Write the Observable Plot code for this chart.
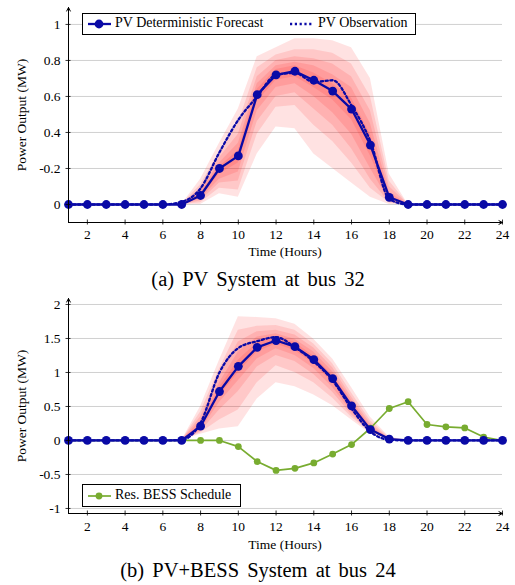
<!DOCTYPE html>
<html><head><meta charset="utf-8">
<script src="https://cdn.jsdelivr.net/npm/d3@7"></script>
<script src="https://cdn.jsdelivr.net/npm/@observablehq/plot@0.6"></script>
<style>
body{margin:0;background:#fff;}
#root{position:relative;width:515px;height:585px;font-family:"Liberation Serif","Times New Roman",serif;color:#000;overflow:hidden;}
.abs{position:absolute;white-space:nowrap;}
.panel{position:absolute;left:0;}
</style></head><body><div id="root"></div>
<script>
// ---------- data ----------
const hours = [1,2,3,4,5,6,7,8,9,10,11,12,13,14,15,16,17,18,19,20,21,22,23,24];
const xTicks = [2,4,6,8,10,12,14,16,18,20,22,24];

// (a) PV System at bus 32
const yTicksA = [0,0.2,0.4,0.6,0.8,1];
const yTickLabelsA = ["0","-0.2","0.4","0.6","0.8","1"];
const forecastA = [0,0,0,0,0,0,0,0.05,0.20,0.27,0.61,0.72,0.74,0.69,0.63,0.53,0.33,0.04,0,0,0,0,0,0];
const observedA = [0,0,0,0,0,0,0.015,0.09,0.29,0.47,0.60,0.72,0.73,0.68,0.69,0.55,0.35,0.03,0,0,0,0,0,0];
const bandHours = [7,8,9,10,11,12,13,14,15,16,17,18,19];
const upperA1 = [0,0.14,0.34,0.53,0.82,0.87,0.92,0.92,0.91,0.87,0.70,0.17,0];
const upperA2 = [0,0.11,0.29,0.45,0.76,0.83,0.86,0.86,0.84,0.78,0.60,0.13,0];
const upperA3 = [0,0.09,0.26,0.39,0.71,0.80,0.82,0.81,0.78,0.71,0.52,0.10,0];
const upperA4 = [0,0.07,0.23,0.34,0.67,0.77,0.79,0.77,0.72,0.65,0.45,0.07,0];
const upperA5 = [0,0.06,0.21,0.30,0.64,0.75,0.77,0.73,0.67,0.59,0.39,0.05,0];
const lowerA5 = [0,0.04,0.17,0.23,0.57,0.69,0.71,0.65,0.58,0.47,0.27,0.03,0];
const lowerA4 = [0,0.03,0.14,0.18,0.52,0.65,0.67,0.60,0.51,0.39,0.20,0.02,0];
const lowerA3 = [0,0.02,0.12,0.13,0.46,0.60,0.62,0.53,0.44,0.31,0.14,0.01,0];
const lowerA2 = [0,0.01,0.09,0.08,0.39,0.54,0.55,0.44,0.35,0.23,0.09,0.01,0];
const lowerA1 = [0,0.00,0.06,0.04,0.28,0.43,0.42,0.28,0.20,0.12,0.04,0.00,0];

// (b) PV+BESS System at bus 24
const yTicksB = [-1,-0.5,0,0.5,1,1.5,2];
const yTickLabelsB = ["-1","-0.5","0","0.5","1","1.5","2"];
const forecastB = [0,0,0,0,0,0,0,0.21,0.72,1.09,1.37,1.47,1.38,1.19,0.91,0.51,0.16,0.02,0,0,0,0,0,0];
const observedB = [0,0,0,0,0,0,0.01,0.26,1.00,1.36,1.46,1.52,1.37,1.16,0.88,0.47,0.13,0.01,0,0,0,0,0,0];
const bessB = [0,0,0,0,0,0,0,0,0,-0.09,-0.31,-0.44,-0.41,-0.33,-0.20,-0.06,0.18,0.47,0.57,0.235,0.20,0.185,0.05,0];
const upperB1 = [0,0.50,1.18,1.82,1.81,1.79,1.71,1.49,1.20,0.78,0.34,0.05,0];
const upperB2 = [0,0.42,1.05,1.62,1.68,1.69,1.62,1.42,1.13,0.70,0.29,0.04,0];
const upperB3 = [0,0.35,0.94,1.45,1.60,1.62,1.55,1.36,1.07,0.64,0.25,0.03,0];
const upperB4 = [0,0.29,0.85,1.30,1.52,1.57,1.49,1.30,1.01,0.59,0.21,0.03,0];
const upperB5 = [0,0.24,0.78,1.18,1.44,1.52,1.44,1.24,0.96,0.55,0.18,0.02,0];
const lowerB5 = [0,0.18,0.65,1.00,1.30,1.42,1.32,1.13,0.85,0.47,0.15,0.01,0];
const lowerB4 = [0,0.15,0.56,0.88,1.20,1.35,1.25,1.06,0.78,0.42,0.14,0.01,0];
const lowerB3 = [0,0.13,0.45,0.72,1.08,1.25,1.16,0.97,0.71,0.38,0.13,0.01,0];
const lowerB2 = [0,0.11,0.30,0.45,0.85,1.10,1.00,0.85,0.62,0.34,0.12,0.01,0];
const lowerB1 = [0,0.09,0.17,0.20,0.61,0.85,0.79,0.67,0.51,0.30,0.10,0.01,0];

// ---------- style ----------
const BLUE = "#0a0aa6", GREEN = "#78ac30", BAND = "#ff0000", GRID = "#d0d0d0";
const W = 515, ML = 68, MR = 13, MT = 7, PH = 215;
const DOTS = "2.2 2.6";

function bandRows(lo, hi) {
  return bandHours.map((h, i) => ({hour: h, lo: lo[i], hi: hi[i]}));
}
function series(vals) { return hours.map((h, i) => ({hour: h, v: vals[i]})); }

function makePanel({yDomain, yTicks, yTickLabels, bands, forecast, observed, bess, tickPad}) {
  const H = MT + PH + 26;
  const yMin = yDomain[0], yMax = yDomain[1];
  const marks = [
    Plot.ruleY(yTicks, {y: d => d, stroke: GRID, strokeWidth: 1}),
    ...bands.map(([lo, hi]) => Plot.areaY(bandRows(lo, hi), {x: "hour", y1: "lo", y2: "hi", fill: BAND, fillOpacity: 0.115})),
  ];
  if (bess) {
    marks.push(Plot.line(series(bess), {x: "hour", y: "v", stroke: GREEN, strokeWidth: 1.7}));
    marks.push(Plot.dot(series(bess), {x: "hour", y: "v", r: 3.4, fill: GREEN}));
  }
  marks.push(
    Plot.line(series(observed), {x: "hour", y: "v", stroke: BLUE, strokeWidth: 2.3, strokeDasharray: DOTS, curve: "monotone-x"}),
    Plot.line(series(forecast), {x: "hour", y: "v", stroke: BLUE, strokeWidth: 2.3}),
    Plot.dot(series(forecast), {x: "hour", y: "v", r: 4.4, fill: BLUE}),
    Plot.arrow([{x1: 1, x2: 24, y1: yMin, y2: yMin}], {x1: "x1", y1: "y1", x2: "x2", y2: "y2", stroke: "#000", strokeWidth: 1, headLength: 6, headAngle: 55}),
    Plot.arrow([{x1: 1, x2: 1, y1: yMin, y2: yMax}], {x1: "x1", y1: "y1", x2: "x2", y2: "y2", stroke: "#000", strokeWidth: 1, headLength: 6, headAngle: 55}),
    Plot.tickX(xTicks, {x: d => d, stroke: "#000", strokeWidth: 0.8, insetTop: PH - 2.5, insetBottom: -2.5}),
    Plot.tickY(yTicks, {y: d => d, stroke: "#000", strokeWidth: 0.8, insetLeft: -2.5, insetRight: (W - ML - MR) - 2.5}),
    Plot.axisX({ticks: xTicks, tickSize: 0, tickPadding: tickPad, label: null, fontSize: 13.5}),
    Plot.axisY({ticks: yTicks, tickSize: 0, tickPadding: 8, label: null, fontSize: 13.5,
      tickFormat: d => yTickLabels[yTicks.indexOf(d)]})
  );
  return Plot.plot({
    width: W, height: H,
    marginLeft: ML, marginRight: MR, marginTop: MT, marginBottom: H - MT - PH,
    x: {domain: [1, 24]},
    y: {domain: yDomain},
    style: {fontFamily: '"Liberation Serif","Times New Roman",serif', fontSize: "13.5px", color: "#000", background: "transparent", overflow: "visible"},
    marks
  });
}

const root = document.getElementById("root");
function addPanel(top, plot) {
  const d = document.createElement("div");
  d.className = "panel"; d.style.top = top + "px";
  d.appendChild(plot); root.appendChild(d);
}
addPanel(0, makePanel({
  yDomain: [-0.1, 1.094], yTicks: yTicksA, yTickLabels: yTickLabelsA,
  bands: [[lowerA1, upperA1],[lowerA2, upperA2],[lowerA3, upperA3],[lowerA4, upperA4],[lowerA5, upperA5]],
  forecast: forecastA, observed: observedA, bess: null, tickPad: 7
}));
addPanel(291, makePanel({
  yDomain: [-1.074, 2.088], yTicks: yTicksB, yTickLabels: yTickLabelsB,
  bands: [[lowerB1, upperB1],[lowerB2, upperB2],[lowerB3, upperB3],[lowerB4, upperB4],[lowerB5, upperB5]],
  forecast: forecastB, observed: observedB, bess: bessB, tickPad: 8
}));

function text(str, css) {
  const s = document.createElement("div");
  s.className = "abs"; s.textContent = str;
  Object.assign(s.style, css);
  root.appendChild(s);
  return s;
}
// axis titles
for (const [cy] of [[114.5],[405.5]]) {
  text("Power Output (MW)", {left: (21.7 - 100) + "px", top: (cy - 7) + "px", width: "200px", textAlign: "center",
    fontSize: "13.5px", lineHeight: "14px", transform: "rotate(-90deg)", transformOrigin: "50% 50%"});
}
text("Time (Hours)", {left: "185px", width: "200px", textAlign: "center", top: "245px", fontSize: "13.5px", lineHeight: "14px"});
text("Time (Hours)", {left: "185px", width: "200px", textAlign: "center", top: "537.5px", fontSize: "13.5px", lineHeight: "14px"});
// captions
text("(a) PV System at bus 32", {left: "0px", width: "516px", textAlign: "center", top: "268.5px", fontSize: "20.5px", lineHeight: "20.5px", wordSpacing: "3px"});
text("(b) PV+BESS System at bus 24", {left: "0px", width: "516px", textAlign: "center", top: "560px", fontSize: "20.5px", lineHeight: "20.5px", wordSpacing: "3px"});

// legends
function legendBox(x, y, w, h) {
  const b = document.createElement("div");
  b.className = "abs";
  Object.assign(b.style, {left: x + "px", top: y + "px", width: (w - 2) + "px", height: (h - 2) + "px", border: "1px solid #000", background: "#fff"});
  root.appendChild(b);
}
function swatch(x, cy, color, kind) {
  const ns = "http://www.w3.org/2000/svg";
  const s = document.createElementNS(ns, "svg");
  s.setAttribute("width", 26); s.setAttribute("height", 12);
  Object.assign(s.style, {position: "absolute", left: (x - 1) + "px", top: (cy - 6) + "px"});
  const l = document.createElementNS(ns, "line");
  l.setAttribute("x1", 1); l.setAttribute("x2", 24); l.setAttribute("y1", 6); l.setAttribute("y2", 6);
  l.setAttribute("stroke", color);
  if (kind === "dotted") { l.setAttribute("stroke-width", 2.3); l.setAttribute("stroke-dasharray", DOTS); }
  else l.setAttribute("stroke-width", kind === "blue" ? 2.3 : 1.7);
  s.appendChild(l);
  if (kind !== "dotted") {
    const c = document.createElementNS(ns, "circle");
    c.setAttribute("cx", 12); c.setAttribute("cy", 6); c.setAttribute("r", kind === "blue" ? 4.4 : 3.4);
    c.setAttribute("fill", color); s.appendChild(c);
  }
  root.appendChild(s);
}
legendBox(82, 13, 334, 22);
swatch(88, 24, BLUE, "blue");
text("PV Deterministic Forecast", {left: "115px", top: "15.6px", fontSize: "14px", lineHeight: "14px"});
swatch(290, 24, BLUE, "dotted");
text("PV Observation", {left: "318px", top: "15.6px", fontSize: "14px", lineHeight: "14px"});

legendBox(82, 484, 159, 23);
swatch(88, 495.7, GREEN, "green");
text("Res. BESS Schedule", {left: "115px", top: "488.3px", fontSize: "14px", lineHeight: "14px"});
</script>
</body></html>
